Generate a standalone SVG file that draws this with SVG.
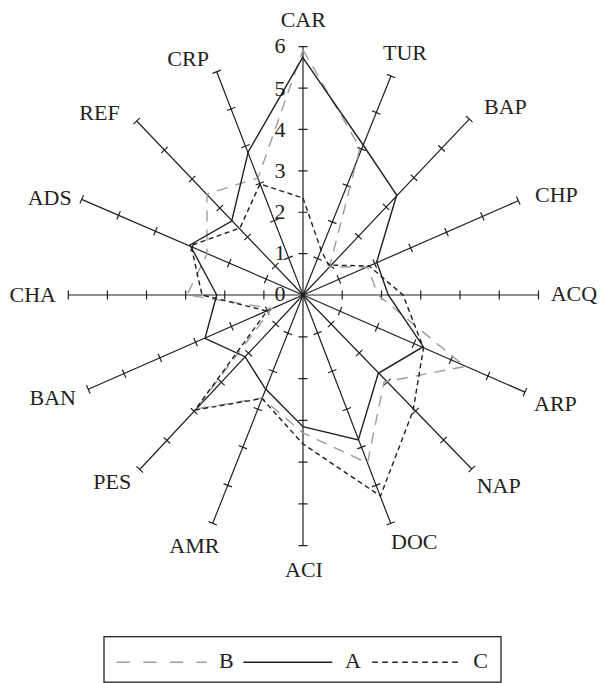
<svg xmlns="http://www.w3.org/2000/svg" width="600" height="683" viewBox="0 0 600 683">
<style>
text{font-family:"Liberation Serif","Times New Roman",serif;font-size:22px;fill:#231f20}
.ax{fill:none;stroke:#231f20;stroke-width:1.2}
.sa{fill:none;stroke:#231f20;stroke-width:1.4;stroke-linejoin:miter}
.sb{fill:none;stroke:#9d9d9d;stroke-width:1.4;stroke-dasharray:11 8}
.sc{fill:none;stroke:#231f20;stroke-width:1.4;stroke-dasharray:5 3.5}
</style>
<rect width="600" height="683" fill="#fff"/>
<g id="axes">
<path class="ax" transform="translate(303,295) rotate(-90)" d="M0 0H248.3M41.38 -4.5v9M82.77 -4.5v9M124.15 -4.5v9M165.53 -4.5v9M206.92 -4.5v9M248.3 -4.5v9"/>
<path class="ax" transform="translate(303,295) rotate(-68.11)" d="M0 0H236M39.33 -4.5v9M78.67 -4.5v9M118 -4.5v9M157.33 -4.5v9M196.67 -4.5v9M236 -4.5v9"/>
<path class="ax" transform="translate(303,295) rotate(-46.62)" d="M0 0H242.1M40.35 -4.5v9M80.7 -4.5v9M121.05 -4.5v9M161.4 -4.5v9M201.75 -4.5v9M242.1 -4.5v9"/>
<path class="ax" transform="translate(303,295) rotate(-23.65)" d="M0 0H235M39.17 -4.5v9M78.33 -4.5v9M117.5 -4.5v9M156.67 -4.5v9M195.83 -4.5v9M235 -4.5v9"/>
<path class="ax" transform="translate(303,295)" d="M0 0H235.5M39.25 -4.5v9M78.5 -4.5v9M117.75 -4.5v9M157 -4.5v9M196.25 -4.5v9M235.5 -4.5v9"/>
<path class="ax" transform="translate(303,295) rotate(23.64)" d="M0 0H242.3M40.38 -4.5v9M80.77 -4.5v9M121.15 -4.5v9M161.53 -4.5v9M201.92 -4.5v9M242.3 -4.5v9"/>
<path class="ax" transform="translate(303,295) rotate(45.88)" d="M0 0H242.4M40.4 -4.5v9M80.8 -4.5v9M121.2 -4.5v9M161.6 -4.5v9M202 -4.5v9M242.4 -4.5v9"/>
<path class="ax" transform="translate(303,295) rotate(68.99)" d="M0 0H244.6M40.77 -4.5v9M81.53 -4.5v9M122.3 -4.5v9M163.07 -4.5v9M203.83 -4.5v9M244.6 -4.5v9"/>
<path class="ax" transform="translate(303,295) rotate(90)" d="M0 0H250.7M41.78 -4.5v9M83.57 -4.5v9M125.35 -4.5v9M167.13 -4.5v9M208.92 -4.5v9M250.7 -4.5v9"/>
<path class="ax" transform="translate(303,295) rotate(111.58)" d="M0 0H245.5M40.92 -4.5v9M81.83 -4.5v9M122.75 -4.5v9M163.67 -4.5v9M204.58 -4.5v9M245.5 -4.5v9"/>
<path class="ax" transform="translate(303,295) rotate(133.1)" d="M0 0H239M39.83 -4.5v9M79.67 -4.5v9M119.5 -4.5v9M159.33 -4.5v9M199.17 -4.5v9M239 -4.5v9"/>
<path class="ax" transform="translate(303,295) rotate(156.29)" d="M0 0H234.5M39.08 -4.5v9M78.17 -4.5v9M117.25 -4.5v9M156.33 -4.5v9M195.42 -4.5v9M234.5 -4.5v9"/>
<path class="ax" transform="translate(303,295) rotate(180)" d="M0 0H234.7M39.12 -4.5v9M78.23 -4.5v9M117.35 -4.5v9M156.47 -4.5v9M195.58 -4.5v9M234.7 -4.5v9"/>
<path class="ax" transform="translate(303,295) rotate(-156.62)" d="M0 0H241.1M40.18 -4.5v9M80.37 -4.5v9M120.55 -4.5v9M160.73 -4.5v9M200.92 -4.5v9M241.1 -4.5v9"/>
<path class="ax" transform="translate(303,295) rotate(-133.7)" d="M0 0H240.7M40.12 -4.5v9M80.23 -4.5v9M120.35 -4.5v9M160.47 -4.5v9M200.58 -4.5v9M240.7 -4.5v9"/>
<path class="ax" transform="translate(303,295) rotate(-111.13)" d="M0 0H239.4M39.9 -4.5v9M79.8 -4.5v9M119.7 -4.5v9M159.6 -4.5v9M199.5 -4.5v9M239.4 -4.5v9"/>
</g>
<g id="scale" text-anchor="middle">
<text x="280" y="53">6</text>
<text x="280" y="96">5</text>
<text x="280" y="137">4</text>
<text x="280" y="178">3</text>
<text x="280" y="218.5">2</text>
<text x="280" y="260">1</text>
<text x="280" y="300.5">0</text>
</g>
<g id="series">
<polygon id="series-B" class="sb" points="303,50 360,148 329.5,267 367.5,267 378,295 465,366.5 384,382 367.5,463 303,433 262,398 196,409 272,308.5 187,295 207,254 207,194 258,178"/>
<polygon id="series-C" class="sc" points="303,198 321,250 328.5,265 369,266 403,295 423.5,348 413,411 380.5,496 303,444 262,398.5 195,410 267,311 202,295 191,245.5 240,228 260,184"/>
<polygon id="series-A" class="sa" points="302.7,57.3 362.5,144 396.7,195 376.7,262 388.3,295 423.3,346.7 378.3,373.3 358.3,440 303,426.7 265,388.3 245,356.7 205,338.3 216.7,295 190,245 231.7,221 248.3,151.7"/>
</g>
<g id="labels">
<text x="303.3" y="26.7" text-anchor="middle">CAR</text>
<text x="383" y="60">TUR</text>
<text x="484" y="114">BAP</text>
<text x="535" y="201.7">CHP</text>
<text x="550.7" y="301">ACQ</text>
<text x="534" y="411">ARP</text>
<text x="476.7" y="493">NAP</text>
<text x="391" y="549">DOC</text>
<text x="304" y="576.7" text-anchor="middle">ACI</text>
<text x="169.3" y="553">AMR</text>
<text x="93.3" y="489">PES</text>
<text x="76" y="405" text-anchor="end">BAN</text>
<text x="56" y="301.7" text-anchor="end">CHA</text>
<text x="71.7" y="205" text-anchor="end">ADS</text>
<text x="79.3" y="120">REF</text>
<text x="167.3" y="66">CRP</text>
</g>
<g id="legend">
<rect x="104" y="636.7" width="397" height="45.5" fill="none" stroke="#231f20" stroke-width="1.3"/>
<line x1="116.7" y1="662.3" x2="206.7" y2="662.3" stroke="#9d9d9d" stroke-width="1.4" stroke-dasharray="13.3 13.3"/>
<text x="219" y="667.7">B</text>
<line x1="243.3" y1="662.3" x2="332.3" y2="662.3" stroke="#231f20" stroke-width="1.4"/>
<text x="345" y="667.7">A</text>
<line x1="372.3" y1="662.3" x2="461.7" y2="662.3" stroke="#231f20" stroke-width="1.4" stroke-dasharray="5.5 4.5"/>
<text x="473.3" y="667.7">C</text>
</g>
</svg>
